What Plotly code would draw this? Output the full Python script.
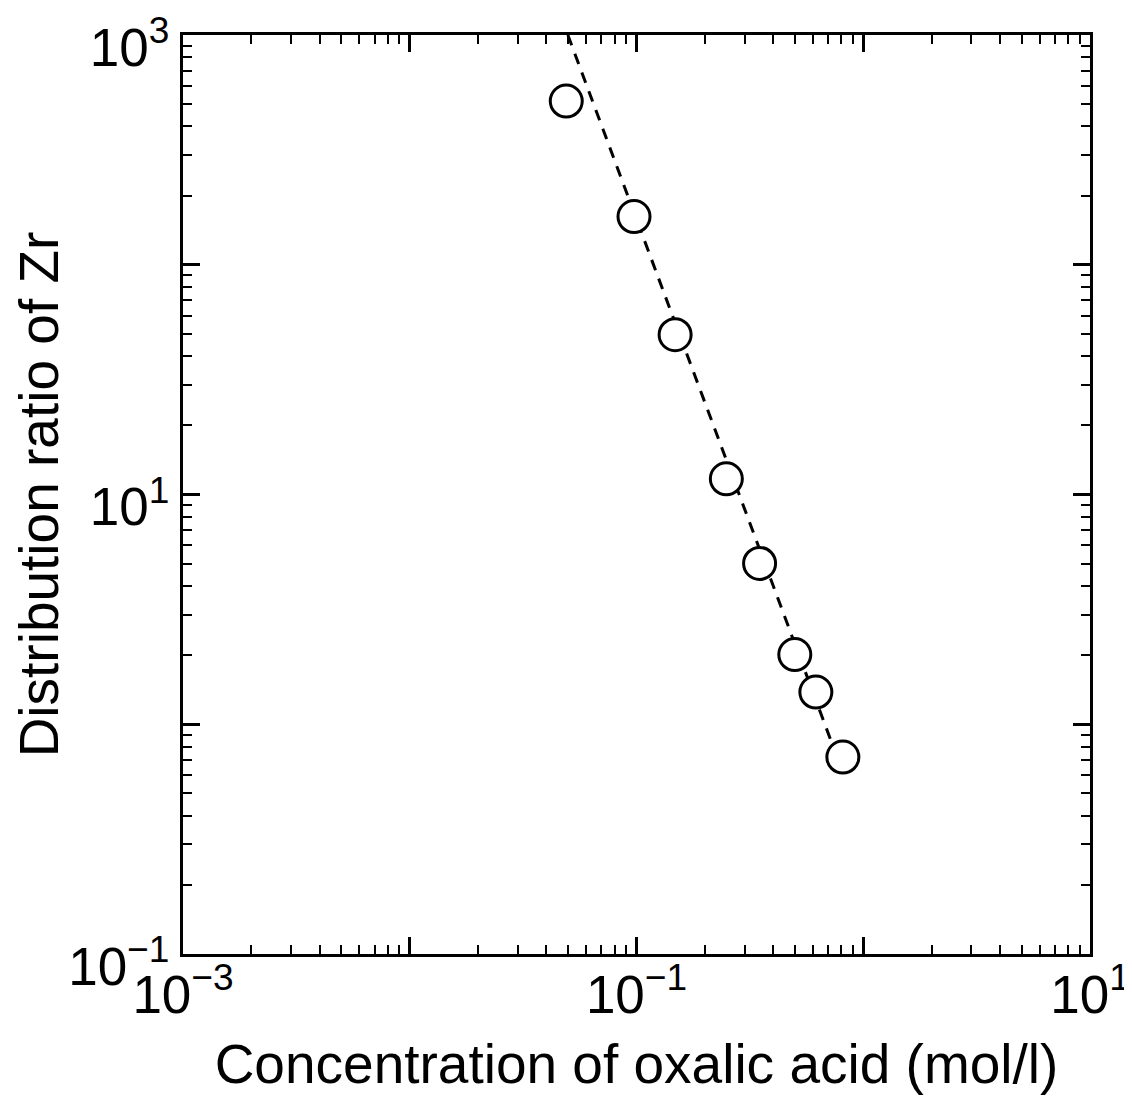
import plotly.graph_objects as go

# Data
conc = [0.049, 0.0975, 0.148, 0.249, 0.349, 0.499, 0.618, 0.813]
dist = [516, 162, 49.6, 11.7, 5.01, 2.01, 1.38, 0.72]
fit_x = [0.0498, 0.72]
fit_y = [1000, 0.85]

x_major = [1e-3, 1e-2, 1e-1, 1e0, 1e1]
x_major_text = ["10<sup>−3</sup>", "", "10<sup>−1</sup>", "", "10<sup>1</sup>"]
y_major = [1e-1, 1e0, 1e1, 1e2, 1e3]
y_major_text = ["10<sup>−1</sup>", "", "10<sup>1</sup>", "", "10<sup>3</sup>"]

x_minor = [k * 10 ** d for d in range(-3, 1) for k in range(2, 10)]
y_minor = [k * 10 ** d for d in range(-1, 3) for k in range(2, 10)]

FONT = "Liberation Sans, Arial, Helvetica, sans-serif"

fig = go.Figure()
fig.add_trace(go.Scatter(
    x=fit_x, y=fit_y, mode="lines",
    line=dict(color="black", width=3, dash="11px,9px"),
    showlegend=False, hoverinfo="skip"))
fig.add_trace(go.Scatter(
    x=conc, y=dist, mode="markers",
    marker=dict(symbol="circle", size=32, color="white",
                line=dict(color="black", width=3)),
    showlegend=False))

axis_common = dict(
    type="log", showgrid=False, zeroline=False, automargin=False,
    ticklabeloverflow="allow",
    showline=True, linecolor="black", linewidth=3, mirror="allticks",
    ticks="inside", ticklen=17, tickwidth=2.5, tickcolor="black",
    tickfont=dict(family=FONT, size=53, color="black"),
)

fig.update_xaxes(
    **axis_common, range=[-3, 1], tickmode="array",
    tickvals=x_major, ticktext=x_major_text,
    ticklabelstandoff=-8,
    minor=dict(ticks="inside", ticklen=9, tickwidth=2, tickcolor="black",
               tickvals=x_minor, showgrid=False),
    title=dict(text="Concentration of oxalic acid (mol/l)",
               font=dict(family=FONT, size=55, color="black"), standoff=22),
)
fig.update_yaxes(
    **axis_common, range=[-1, 3], tickmode="array",
    tickvals=y_major, ticktext=y_major_text,
    ticklabelshift=12,
    minor=dict(ticks="inside", ticklen=9, tickwidth=2, tickcolor="black",
               tickvals=y_minor, showgrid=False),
    title=dict(text="Distribution ratio of Zr",
               font=dict(family=FONT, size=55, color="black"), standoff=10),
)

fig.update_layout(
    width=1132, height=1099,
    margin=dict(l=175, r=50, t=27, b=153),
    paper_bgcolor="white", plot_bgcolor="white",
    font=dict(family=FONT, color="black"),
)

fig.write_html("out.html")
